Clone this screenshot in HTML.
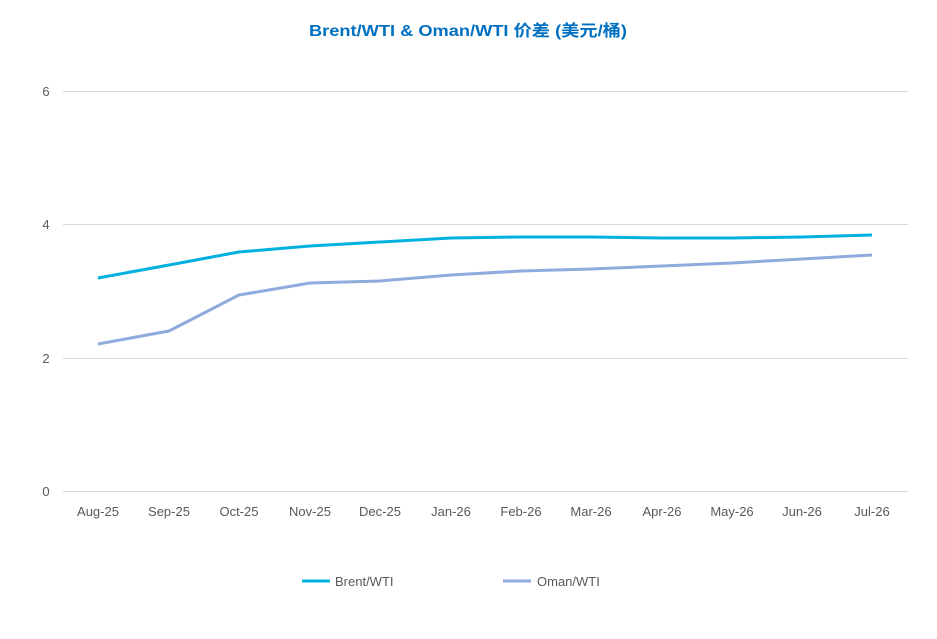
<!DOCTYPE html>
<html><head><meta charset="utf-8"><style>
body{margin:0;background:#fff;}
svg text{font-family:"Liberation Sans","Noto Sans CJK SC",sans-serif;}
</style></head><body>
<svg width="937" height="634" viewBox="0 0 937 634" xmlns="http://www.w3.org/2000/svg">
<rect width="937" height="634" fill="#fff"/>
<text x="309" y="36" font-size="16" font-weight="bold" fill="#0070c0" textLength="318" lengthAdjust="spacingAndGlyphs">Brent/WTI &amp; Oman/WTI 价差 (美元/桶)</text>
<g stroke="#d9d9d9" stroke-width="1">
<line x1="63" y1="91.5" x2="908" y2="91.5"/>
<line x1="63" y1="224.5" x2="908" y2="224.5"/>
<line x1="63" y1="358.5" x2="908" y2="358.5"/>
<line x1="63" y1="491.5" x2="908" y2="491.5"/>
</g>
<g font-size="13" fill="#595959" text-anchor="middle">
<text x="46" y="96">6</text><text x="46" y="229">4</text><text x="46" y="363">2</text><text x="46" y="496">0</text>
<text x="98" y="516">Aug-25</text><text x="169" y="516">Sep-25</text><text x="239" y="516">Oct-25</text><text x="310" y="516">Nov-25</text><text x="380" y="516">Dec-25</text><text x="451" y="516">Jan-26</text><text x="521" y="516">Feb-26</text><text x="591" y="516">Mar-26</text><text x="662" y="516">Apr-26</text><text x="732" y="516">May-26</text><text x="802" y="516">Jun-26</text><text x="872" y="516">Jul-26</text>
</g>
<polyline fill="none" stroke="#00b0e0" stroke-width="3" stroke-linejoin="round" points="98,278 169,265 239,252 310,246 380,242 451,238 521,237 591,237 662,238 732,238 802,237 872,235"/>
<polyline fill="none" stroke="#8faadc" stroke-width="3" stroke-linejoin="round" points="98,344 169,331 239,295 310,283 380,281 451,275 521,271 591,269 662,266 732,263 802,259 872,255"/>
<line x1="302" y1="581" x2="330" y2="581" stroke="#00b0e0" stroke-width="3"/>
<text x="335" y="586" font-size="13" fill="#595959">Brent/WTI</text>
<line x1="503" y1="581" x2="531" y2="581" stroke="#8faadc" stroke-width="3"/>
<text x="537" y="586" font-size="13" fill="#595959">Oman/WTI</text>
</svg>
</body></html>
